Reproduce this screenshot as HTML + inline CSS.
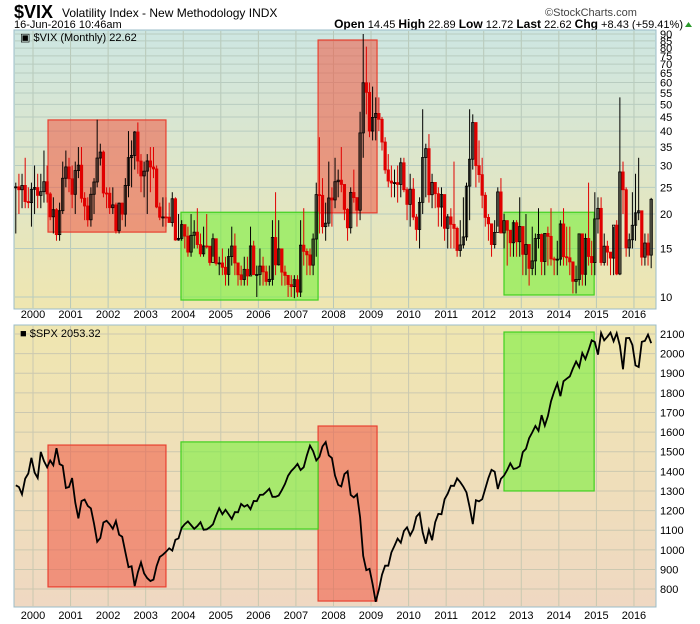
<!DOCTYPE html>
<html><head><meta charset="utf-8">
<style>
body{margin:0;background:#fff;font-family:"Liberation Sans",sans-serif;}
#wrap{position:relative;width:700px;height:624px;overflow:hidden;}
</style></head>
<body>
<div id="wrap">
<svg id="svg" width="700" height="624" xmlns="http://www.w3.org/2000/svg" font-family="Liberation Sans, sans-serif">
<defs>
<linearGradient id="g1" x1="0" y1="0" x2="0" y2="1"><stop offset="0" stop-color="#cde6e2"/><stop offset="1" stop-color="#efe6b0"/></linearGradient>
<linearGradient id="g2" x1="0" y1="0" x2="0" y2="1"><stop offset="0" stop-color="#efe6b0"/><stop offset="1" stop-color="#efd8c2"/></linearGradient>
<clipPath id="c1"><rect x="14" y="30" width="642" height="279"/></clipPath>
<clipPath id="c2"><rect x="14" y="325" width="642" height="282"/></clipPath>
</defs>
<text x="14" y="18" font-size="18" font-weight="bold">$VIX</text>
<text x="62" y="17" font-size="12">Volatility Index - New Methodology  INDX</text>
<text x="545" y="16" font-size="11" fill="#444">©StockCharts.com</text>
<text x="14" y="28" font-size="11">16-Jun-2016 10:46am</text>
<text x="683" y="28" font-size="11" text-anchor="end"><tspan font-weight="bold" font-size="12">Open</tspan> 14.45 <tspan font-weight="bold" font-size="12">High</tspan> 22.89 <tspan font-weight="bold" font-size="12">Low</tspan> 12.72 <tspan font-weight="bold" font-size="12">Last</tspan> 22.62 <tspan font-weight="bold" font-size="12">Chg</tspan> +8.43 (+59.41%)</text>
<polygon points="685,27 692,27 688.5,22" fill="#2a9a2a"/>
<rect x="14" y="30" width="642" height="279" fill="url(#g1)" stroke="#9bbcc8"/>
<rect x="14" y="325" width="642" height="282" fill="url(#g2)" stroke="#9bbcc8"/>
<g id="grid"></g>
<g id="boxes"></g>
<g id="marks"></g>
<g id="labels"></g>
<text x="20" y="41" font-size="11">▣ $VIX (Monthly) 22.62</text>
<text x="20" y="337" font-size="11">■ $SPX 2053.32</text>
</svg>
</div>
<script>
const years=[2000,2001,2002,2003,2004,2005,2006,2007,2008,2009,2010,2011,2012,2013,2014,2015,2016];
const vixTicks=[10,15,20,25,30,35,40,45,50,55,60,65,70,75,80,85,90];
const spxTicks=[800,900,1000,1100,1200,1300,1400,1500,1600,1700,1800,1900,2000,2100];
const startYear=1999.5;
const vixClose=[25.1,24.5,25.4,22.2,22.0,24.6,
24.95,23.37,24.11,26.20,23.65,19.54,20.74,16.84,20.57,26.97,29.65,26.85,
23.58,28.75,30.08,22.82,21.39,19.06,23.59,26.14,31.93,33.56,23.84,23.80,
21.09,21.59,17.40,21.91,19.98,25.40,32.03,32.64,39.69,31.14,27.50,28.62,
31.17,29.63,29.15,21.21,19.47,19.52,19.49,18.63,22.72,16.10,16.32,18.31,
16.63,14.55,16.74,17.19,15.50,14.34,15.32,15.29,13.34,16.27,13.24,13.29,
12.82,12.08,14.02,15.31,13.29,12.04,11.57,12.60,11.92,15.32,12.06,12.07,
12.95,12.34,11.39,11.59,16.44,13.08,14.95,12.31,11.98,11.10,10.91,11.56,
10.42,15.42,14.64,14.22,13.05,16.23,23.52,23.38,18.00,18.53,22.87,22.50,
26.20,26.54,25.61,20.79,17.83,23.95,22.94,20.65,39.39,59.89,55.28,40.00,
44.84,46.35,44.14,36.50,28.92,26.35,25.92,26.01,25.61,30.69,24.51,21.68,
24.62,19.50,17.59,22.05,32.07,34.54,23.50,26.05,23.70,21.20,23.54,17.75,
19.53,18.35,17.74,14.75,15.45,16.52,25.25,31.62,42.96,29.96,27.80,23.40,
19.44,18.43,15.50,17.15,24.06,17.08,18.93,17.47,15.73,18.60,15.87,18.02,
14.28,15.51,12.70,13.52,16.30,16.86,13.45,17.01,16.60,13.75,13.70,13.72,
18.41,14.00,13.88,13.41,11.40,11.57,16.95,12.09,16.31,14.03,13.33,19.20,
20.97,13.34,15.29,14.55,13.84,18.23,12.12,28.43,24.50,15.07,16.13,18.21,
20.20,20.55,13.95,15.70,14.19,22.62];
const vixHigh=[26,28,28,32,25,26,
30,28,28,34,30,24,23,21,22,31,34,32, 30,31,35,35,24,23,25,27,44,36,34,25,
25,25,22,22,22,27,40,37,40,43,33,31, 33,35,35,30,22,23,23,22,24,23,20,19,
18,18,20,19,21,17,18,20,15,17,16,14, 15,14,15,18,17,13,13,14,14,18,16,13,
15,14,13,13,19,24,19,15,13,12,12,12, 12,19,21,15,15,17,26,38,27,22,31,25,
32,29,35,25,21,25,29,23,47,90,81,60, 58,53,53,45,38,33,30,29,30,32,32,25,
28,27,20,23,48,36,39,28,26,25,25,19, 20,21,31,18,19,23,26,48,46,43,37,32,
24,20,18,19,25,27,20,19,17,19,19,23, 18,20,15,18,17,21,17,17,18,21,14,16,
19,21,18,18,13,13,17,17,17,26,16,24, 23,23,17,16,14,18,19,53,31,25,17,24,
28,32,20,17,17,22.89];
const vixLow=[17,20,21,21,21,18,
20,21,21,22,22,19,17,16,16,20,25,24, 21,20,27,22,19,18,18,20,25,30,23,21,
20,20,17,17,19,18,23,25,29,28,24,23, 20,24,27,21,19,18,18,19,18,16,16,16,
15,14,14,15,15,14,14,15,13,14,13,12, 12,11,11,13,12,11,11,11,11,12,12,10,
11,11,11,11,11,12,13,11,11,10,10,9.9, 10,10,13,12,12,12,14,17,17,16,18,18,
21,23,24,19,16,17,22,18,19,32,46,38, 37,37,40,34,28,25,23,23,22,23,24,19,
18,19,16,15,20,23,22,21,21,18,18,16, 15,15,15,14,14,15,16,19,29,25,26,21,
18,16,14,15,18,17,15,13,14,14,14,14, 12,12,11,12,12,15,12,12,13,13,12,12,
13,13,13,12,10.3,10.3,11,11,11,13,12,12, 17,13,13,13,12,12,12,12,20,14,14,15,
16,19,13,13,13,12.72];
const spxClose=[1329,1320,1283,1363,1389,1469,
1394,1366,1499,1452,1421,1455,1431,1518,1437,1429,1315,1320,
1366,1240,1160,1249,1256,1224,1211,1134,1041,1060,1139,1148,
1130,1107,1147,1077,1067,990,912,916,815,886,936,880,
856,841,848,917,964,975,990,1008,996,1051,1058,1112,
1131,1145,1126,1107,1121,1141,1102,1104,1115,1130,1174,1212,
1181,1204,1181,1157,1192,1191,1234,1220,1229,1207,1249,1248,
1280,1281,1295,1311,1270,1270,1277,1304,1336,1378,1401,1418,
1438,1407,1421,1482,1531,1503,1455,1474,1527,1549,1481,1468,
1379,1331,1323,1386,1400,1280,1267,1283,1166,969,896,903,
826,735,798,873,919,919,987,1021,1057,1036,1096,1115,
1074,1104,1169,1187,1089,1031,1102,1049,1141,1183,1181,1258,
1286,1327,1326,1364,1345,1321,1292,1219,1131,1253,1247,1258,
1312,1366,1408,1398,1310,1362,1379,1407,1441,1412,1416,1426,
1498,1515,1569,1598,1631,1606,1686,1633,1682,1757,1806,1848,
1783,1859,1872,1884,1924,1960,1931,2003,1972,2018,2068,2059,
1995,2105,2068,2086,2107,2063,2104,2040,1920,2079,2080,2044,
1940,1932,2060,2065,2097,2053];
// highlight boxes: [startYear, endYear, vixLow, vixHigh, spxLow, spxHigh]
const redBoxes=[[2000.4,2003.54,17.2,43.9,811,1534],[2007.59,2009.16,20.2,85.6,739,1631]];
const greenBoxes=[[2003.94,2007.59,9.75,20.3,1106,1550],[2012.54,2014.94,10.17,20.3,1300,2110]];

const NS="http://www.w3.org/2000/svg";
const x=t=>33+(t-2000)*37.56;
const yV=v=>297-(Math.log10(v)-1)*275.6;
const yS=v=>334+(2100-v)*0.1962;
function mk(tag,attrs,parent){const e=document.createElementNS(NS,tag);for(const k in attrs)e.setAttribute(k,attrs[k]);document.getElementById(parent).appendChild(e);return e;}
years.forEach(yr=>{
  const gx=x(yr);
  let l=mk('line',{x1:gx,x2:gx,y1:31,y2:308,stroke:'#b8c8b8','stroke-width':1},'grid');
  
  
  l=mk('line',{x1:gx,x2:gx,y1:326,y2:606,stroke:'#c8c8b0','stroke-width':1},'grid');
  
  
  let t=mk('text',{x:gx,y:318,'font-size':11,'text-anchor':'middle'},'labels');t.textContent=yr;
  
  
  t=mk('text',{x:gx,y:619,'font-size':11,'text-anchor':'middle'},'labels');t.textContent=yr;
  
  
});
vixTicks.forEach(v=>{
  const gy=yV(v);
  const l=mk('line',{x1:15,x2:655,y1:gy,y2:gy,stroke:'#b8ccc0','stroke-width':1},'grid');
  
  
  const t=mk('text',{x:660,y:gy+4,'font-size':11},'labels');t.textContent=v;
  
  
});
spxTicks.forEach(v=>{
  const gy=yS(v);
  const l=mk('line',{x1:15,x2:655,y1:gy,y2:gy,stroke:'#ccc8b0','stroke-width':1},'grid');
  
  
  const t=mk('text',{x:660,y:gy+4,'font-size':11},'labels');t.textContent=v;
  
  
});
function box(b,fill,stroke,name){
  let r=mk('rect',{x:x(b[0]),y:yV(b[3]),width:x(b[1])-x(b[0]),height:yV(b[2])-yV(b[3]),fill:fill,stroke:stroke,'stroke-width':1.2},'boxes');
  
  
  r=mk('rect',{x:x(b[0]),y:yS(b[5]),width:x(b[1])-x(b[0]),height:yS(b[4])-yS(b[5]),fill:fill,stroke:stroke,'stroke-width':1.2},'boxes');
  
  
}
redBoxes.forEach(b=>box(b,'rgba(240,85,65,0.55)','#e84030','red-period-box'));
greenBoxes.forEach(b=>box(b,'rgba(120,240,60,0.6)','#40d020','green-period-box'));
const m=document.getElementById('marks');
const g1=document.createElementNS(NS,'g');g1.setAttribute('clip-path','url(#c1)');g1.id='m1';m.appendChild(g1);
const g2=document.createElementNS(NS,'g');g2.setAttribute('clip-path','url(#c2)');g2.id='m2';m.appendChild(g2);
for(let i=0;i<vixClose.length;i++){
  const cx=x(startYear+(i+0.5)/12);
  const c=vixClose[i], o=i>0?vixClose[i-1]:vixClose[0];
  const down=c<o;
  const col=down?'#e00000':'#000';
  const l=mk('line',{x1:cx,x2:cx,y1:yV(vixHigh[i]),y2:yV(vixLow[i]),stroke:col,'stroke-width':1},'m1');
  
  
  const top=yV(Math.max(o,c)),bot=yV(Math.min(o,c));
  const r=mk('rect',{x:cx-1.2,y:top,width:2.4,height:Math.max(1,bot-top),fill:down?col:'none',stroke:col,'stroke-width':0.8},'m1');
  
  
}
let d='';
spxClose.forEach((v,i)=>{d+=(i?'L':'M')+x(startYear+(i+0.5)/12).toFixed(1)+','+yS(v).toFixed(1);});
const pl=mk('path',{d:d,fill:'none',stroke:'#000','stroke-width':1.8},'m2');


</script>
</body></html>
